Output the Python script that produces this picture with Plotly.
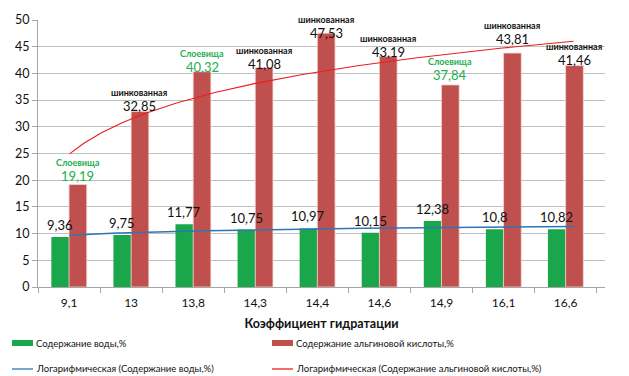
import numpy as np
import plotly.graph_objects as go

categories = ["9,1", "13", "13,8", "14,3", "14,4", "14,6", "14,9", "16,1", "16,6"]
water = [9.36, 9.75, 11.77, 10.75, 10.97, 10.15, 12.38, 10.8, 10.82]
alginic = [19.19, 32.85, 40.32, 41.08, 47.53, 43.19, 37.84, 43.81, 41.46]
kinds = ["Слоевища", "шинкованная", "Слоевища", "шинкованная", "шинкованная",
         "шинкованная", "Слоевища", "шинкованная", "шинкованная"]

name_water = "Содержание воды,%"
name_alg = "Содержание альгиновой кислоты,%"
x_title = "Коэффициент гидратации"

# label offsets (pixels above bar top) – styling only
red_label_shift = [9, 6, 5, 4, 0, 4, 10, 14, 6]

GREEN = "#1aa64b"
RED = "#c0504d"
BLUE = "#2e75b6"
TREND_RED = "#ee1c1c"
LABEL_GREEN = "#21b04f"
FONT = "Lato"

W, H = 629, 376
ML, MR, MT, MB = 38, 24, 20, 89
PW, PH = W - ML - MR, H - MT - MB

def fmt(v):
    return (f"{v:g}").replace(".", ",")

fig = go.Figure()
fig.add_trace(go.Bar(x=categories, y=water, name=name_water, marker_color=GREEN,
                     marker_line_width=0, showlegend=False))
fig.add_trace(go.Bar(x=categories, y=alginic, name=name_alg, marker_color=RED,
                     marker_line=dict(width=0.8, color="#f2d4d3"), showlegend=False))

# logarithmic trend lines (Excel-style, x = 1..n)
n = len(categories)
idx = np.arange(1, n + 1)
xs = np.linspace(1, n, 200)
for vals, col, wdt, nm in [(water, BLUE, 1.5, "Логарифмическая (" + name_water + ")"),
                           (alginic, TREND_RED, 1.1, "Логарифмическая (" + name_alg + ")")]:
    a, b = np.polyfit(np.log(idx), vals, 1)
    fig.add_trace(go.Scatter(x=xs, y=a * np.log(xs) + b, mode="lines", xaxis="x2",
                             line=dict(color=col, width=wdt), name=nm, showlegend=False,
                             hoverinfo="skip"))

bw = 0.143
ann = []
for i in range(n):
    ann.append(dict(x=i - bw, y=water[i], xref="x", yref="y", text=fmt(water[i]),
                    showarrow=False, yanchor="middle", yshift=12,
                    font=dict(size=13, color="#111111", family=FONT)))
    col = LABEL_GREEN if kinds[i] == "Слоевища" else "#111111"
    sh = red_label_shift[i]
    ann.append(dict(x=i + bw, y=alginic[i], xref="x", yref="y", text=fmt(alginic[i]),
                    showarrow=False, yanchor="middle", yshift=sh,
                    font=dict(size=13, color=col, family=FONT)))
    ann.append(dict(x=i + bw, y=alginic[i], xref="x", yref="y", text="<b>" + kinds[i] + "</b>",
                    showarrow=False, yanchor="middle", yshift=sh + 13.5,
                    font=dict(size=9, color=col, family=FONT)))

# manual legend (pixel positions converted to paper coords)
def px2x(px):
    return (px - ML) / PW

def py2y(py):
    return (H - MB - py) / PH

shapes = []
leg = [(12, 343, "bar", GREEN, name_water),
       (272, 343, "bar", RED, name_alg),
       (12, 369, "line", BLUE, "Логарифмическая (" + name_water + ")"),
       (272, 369, "line", TREND_RED, "Логарифмическая (" + name_alg + ")")]
for px, py, kind, col, txt in leg:
    x0, x1 = px2x(px), px2x(px + 21)
    if kind == "bar":
        shapes.append(dict(type="rect", xref="paper", yref="paper", x0=x0, x1=x1,
                           y0=py2y(py + 3), y1=py2y(py - 3),
                           fillcolor=col, line_width=0))
    else:
        shapes.append(dict(type="line", xref="paper", yref="paper", x0=x0, x1=x1,
                           y0=py2y(py), y1=py2y(py), line=dict(color=col, width=1.3)))
    ann.append(dict(x=px2x(px + 22), y=py2y(py), xref="paper", yref="paper",
                    text=txt, showarrow=False, xanchor="left", yanchor="middle",
                    font=dict(size=9.5, color="#111111", family=FONT)))

fig.update_layout(
    width=W, height=H,
    margin=dict(l=ML, r=MR, t=MT, b=MB),
    paper_bgcolor="white", plot_bgcolor="white",
    barmode="group", bargap=0.43, bargroupgap=0,
    font=dict(family=FONT, size=12, color="#111111"),
    annotations=ann, shapes=shapes,
    xaxis=dict(type="category", tickson="boundaries", ticks="outside", ticklen=5,
               tickcolor="#a6a6a6", showline=True, linecolor="#a6a6a6", linewidth=1,
               showgrid=False, tickfont=dict(size=12), ticklabelstandoff=5,
               title=dict(text="<b>" + x_title + "</b>", font=dict(size=12.5), standoff=9)),
    xaxis2=dict(overlaying="x", range=[0.5, n + 0.5], visible=False),
    yaxis=dict(range=[0, 50], dtick=5, ticks="outside", ticklen=5, tickcolor="#a6a6a6",
               showline=True, linecolor="#a6a6a6", linewidth=1,
               gridcolor="#bfbfbf", gridwidth=1, zeroline=False, tickfont=dict(size=12.5)),
)

fig.write_html("out.html")
